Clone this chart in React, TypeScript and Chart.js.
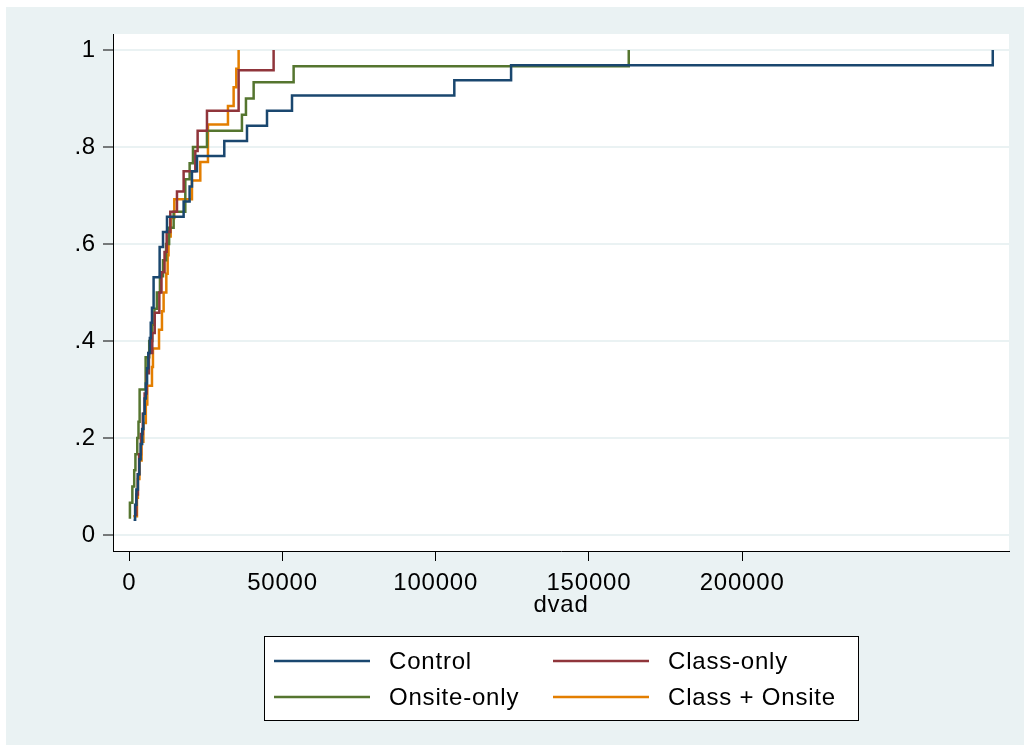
import React, { useEffect, useRef } from 'react';
import { Chart, registerables } from 'chart.js';

Chart.register(...registerables);

const groupNames = ['Control', 'Class-only', 'Onsite-only', 'Class + Onsite'];
const groupColors = ['#1a476f', '#90353b', '#55752f', '#e37e00'];

const controlValues = [1400, 1900, 2300, 2800, 3300, 3700, 4200, 4600, 5000, 5400, 5800, 6200, 6700, 7000, 7400, 7930, 7930, 9900, 9900, 11000, 12300, 17730, 19680, 20450, 22090, 31000, 38410, 44940, 53100, 106070, 124600, 281800];
const classOnlyValues = [2000, 2300, 2800, 3200, 3800, 4400, 5000, 5700, 6400, 7500, 8300, 9800, 10500, 11500, 12200, 13380, 15560, 17730, 21540, 22300, 25350, 35680, 35680, 47100];
const onsiteOnlyValues = [200, 200, 1000, 1600, 2000, 2600, 3000, 3370, 3370, 5330, 5330, 6500, 7500, 8200, 9000, 10000, 11000, 12000, 13000, 14470, 18280, 18280, 19690, 20780, 25350, 36760, 38070, 40580, 53630, 163000];
const classOnsiteValues = [1300, 2500, 2800, 3300, 4000, 4600, 5400, 5870, 7400, 7720, 9700, 10660, 11200, 12080, 12520, 12800, 13500, 14690, 20450, 23170, 25670, 25670, 32200, 34050, 34920, 35680];

const xTickValues = [0, 50000, 100000, 150000, 200000];
const xTickLabels = ['0', '50000', '100000', '150000', '200000'];
const yTickValues = [0, 0.2, 0.4, 0.6, 0.8, 1];
const yTickLabels = ['0', '.2', '.4', '.6', '.8', '1'];
const xTitle = 'dvad';

const seriesValues = [controlValues, classOnlyValues, onsiteOnlyValues, classOnsiteValues];

const FONT = "'Liberation Sans', Arial, sans-serif";
const FONT_SIZE = 24;
const BG = '#EAF2F3';

function ecdf(values: number[]) {
  const n = values.length;
  return values.map((v, i) => ({ x: v, y: (i + 1) / n }));
}

const bgPlugin = {
  id: 'stataBg',
  beforeDraw(chart: any) {
    const { ctx, chartArea } = chart;
    ctx.save();
    ctx.fillStyle = '#ffffff';
    ctx.fillRect(0, 0, chart.width, chart.height);
    ctx.fillStyle = BG;
    ctx.fillRect(6, 7, 1018, 738);
    ctx.fillStyle = '#ffffff';
    ctx.fillRect(chartArea.left, chartArea.top, chartArea.right - chartArea.left, chartArea.bottom - chartArea.top);
    ctx.restore();
    // slightly wider text, as in the reference
    (ctx as any).letterSpacing = '0.8px';
  },
};

const legendPlugin = {
  id: 'stataLegend',
  afterDraw(chart: any) {
    const { ctx } = chart;
    ctx.save();
    ctx.fillStyle = '#ffffff';
    ctx.fillRect(264.5, 636.5, 594, 84);
    ctx.strokeStyle = '#000';
    ctx.lineWidth = 1;
    ctx.strokeRect(264.5, 636.5, 594, 84);
    const pos = [
      [274, 661],
      [553, 661],
      [274, 697],
      [553, 697],
    ];
    ctx.font = `${FONT_SIZE}px ${FONT}`;
    ctx.textBaseline = 'middle';
    ctx.textAlign = 'left';
    groupNames.forEach((name, i) => {
      const [x, y] = pos[i];
      ctx.strokeStyle = groupColors[i];
      ctx.lineWidth = 2.5;
      ctx.beginPath();
      ctx.moveTo(x, y);
      ctx.lineTo(x + 96, y);
      ctx.stroke();
      ctx.fillStyle = '#000';
      ctx.fillText(name, x + 115, y + 1);
    });
    ctx.restore();
  },
};

export default function App() {
  const ref = useRef<HTMLCanvasElement | null>(null);

  useEffect(() => {
    if (!ref.current) return;
    const chart = new Chart(ref.current, {
      type: 'scatter',
      data: {
        datasets: seriesValues.map((vals, i) => ({
          label: groupNames[i],
          data: ecdf(vals),
          borderColor: groupColors[i],
          backgroundColor: groupColors[i],
          borderWidth: 2.5,
          pointRadius: 0,
          showLine: true,
          stepped: 'before' as const,
          fill: false,
        })),
      },
      options: {
        animation: false,
        responsive: false,
        devicePixelRatio: 1,
        layout: { padding: { left: 0, top: 34, right: 21, bottom: 130 } },
        plugins: {
          legend: { display: false },
          tooltip: { enabled: false },
        },
        scales: {
          x: {
            type: 'linear',
            min: -5320,
            max: 287100,
            afterBuildTicks: (scale: any) => {
              scale.ticks = xTickValues.map((v) => ({ value: v }));
            },
            afterFit: (scale: any) => {
              scale.height = 70;
            },
            ticks: {
              color: '#000',
              font: { family: FONT, size: FONT_SIZE },
              padding: 8,
              maxRotation: 0,
              autoSkip: false,
              callback: (v: any) => {
                const idx = xTickValues.indexOf(Number(v));
                return idx >= 0 ? xTickLabels[idx] : '';
              },
            },
            grid: {
              drawOnChartArea: false,
              drawTicks: true,
              tickLength: 10,
              tickColor: '#000',
              tickWidth: 1,
            },
            border: { display: true, color: '#000', width: 1 },
            title: {
              display: true,
              text: xTitle,
              color: '#000',
              font: { family: FONT, size: FONT_SIZE },
              padding: { top: 0, bottom: 1 },
            },
          },
          y: {
            type: 'linear',
            min: -0.033,
            max: 1.033,
            afterBuildTicks: (scale: any) => {
              scale.ticks = yTickValues.map((v) => ({ value: v }));
            },
            afterFit: (scale: any) => {
              scale.width = 113;
            },
            ticks: {
              color: '#000',
              font: { family: FONT, size: FONT_SIZE },
              padding: 7,
              autoSkip: false,
              callback: (v: any) => {
                const idx = yTickValues.findIndex((t) => Math.abs(t - Number(v)) < 1e-9);
                return idx >= 0 ? yTickLabels[idx] : '';
              },
            },
            grid: {
              color: BG,
              lineWidth: 2,
              drawOnChartArea: true,
              drawTicks: true,
              tickLength: 10,
              tickColor: '#000',
              tickWidth: 1,
            },
            border: { display: true, color: '#000', width: 1 },
          },
        },
      },
      plugins: [bgPlugin, legendPlugin],
    } as any);
    return () => chart.destroy();
  }, []);

  return (
    <div style={{ position: 'fixed', left: 0, top: 0, width: 1030, height: 751 }}>
      <canvas ref={ref} width={1030} height={751} style={{ display: 'block' }} />
    </div>
  );
}
